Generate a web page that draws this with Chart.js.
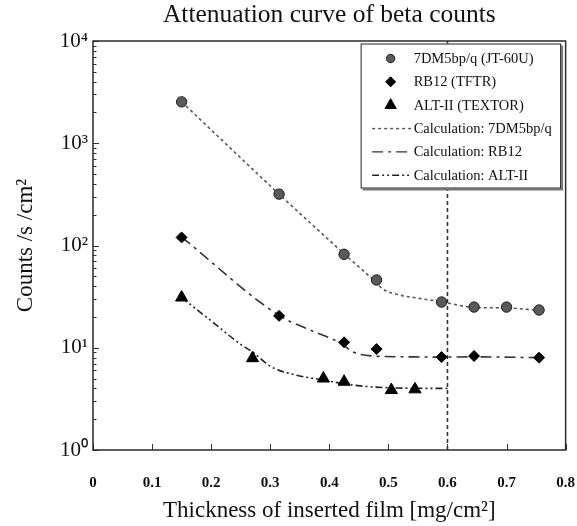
<!DOCTYPE html>
<html><head><meta charset="utf-8">
<script src="https://cdn.jsdelivr.net/npm/chart.js@4.4.1/dist/chart.umd.min.js"></script>
<style>html,body{margin:0;padding:0;background:#fff;} canvas{display:block;}</style>
</head><body>
<canvas id="c" width="577" height="526"></canvas>
<script>
// ---- text ----
const chartTitle = 'Attenuation curve of beta counts';
const xAxisTitle = 'Thickness of inserted film [mg/cm²]';
const yAxisTitle = 'Counts /s /cm²';
const xTickValues = [0, 0.1, 0.2, 0.3, 0.4, 0.5, 0.6, 0.7, 0.8];
const xTickLabels = ['0', '0.1', '0.2', '0.3', '0.4', '0.5', '0.6', '0.7', '0.8'];
const yMajorTicks = [1, 10, 100, 1000, 10000];
const yMajorLabels = ['10⁰', '10¹', '10²', '10³', '10⁴'];

// ---- measured series ----
const jtX = [0.15, 0.315, 0.425, 0.48, 0.59, 0.645, 0.70, 0.755];
const jtY = [2540, 318, 82, 46, 28, 25, 25, 23.4];
const tftrX = [0.15, 0.315, 0.425, 0.48, 0.59, 0.645, 0.755];
const tftrY = [120, 20.5, 11.3, 9.7, 8.1, 8.3, 8.0];
const textorX = [0.15, 0.27, 0.39, 0.425, 0.505, 0.545];
const textorY = [31, 7.9, 5.0, 4.65, 3.86, 3.92];

// ---- calculation curves ----
const calcJtX = [0.15, 0.315, 0.425, 0.48, 0.489, 0.5125, 0.552, 0.589, 0.645, 0.70, 0.755];
const calcJtY = [2540, 318, 83, 43, 38, 33.5, 30.4, 28.2, 24.8, 24.5, 23.2];
const calcRbX = [0.15, 0.315, 0.37, 0.42, 0.44, 0.475, 0.53, 0.59, 0.645, 0.755];
const calcRbY = [121, 20.7, 14.7, 11.0, 9.1, 8.3, 8.15, 8.1, 8.15, 8.0];
const calcAltX = [0.15, 0.20, 0.25, 0.27, 0.30, 0.3325, 0.39, 0.44, 0.50, 0.60];
const calcAltY = [31, 18.3, 10.8, 9.1, 6.6, 5.6, 4.83, 4.32, 4.06, 4.0];

// ---- reference line ----
const refLineX = [0.6, 0.6];
const refLineY = [1, 10000];

const zip = (xs, ys) => xs.map((x, i) => ({x: x, y: ys[i]}));
const SERIF = "'Liberation Serif', 'Times New Roman', serif";

const datasets = [
  {label: '7DM5bp/q (JT-60U)', data: zip(jtX, jtY), legend: true, order: 0,
   pointStyle: 'circle', pointRadius: 5.2, backgroundColor: '#5a5a5a', borderColor: '#1e1e1e', pointBorderWidth: 1, showLine: false},
  {label: 'RB12 (TFTR)', data: zip(tftrX, tftrY), legend: true, order: 0,
   pointStyle: 'rectRot', pointRadius: 5.5, backgroundColor: '#000', borderColor: '#000', pointBorderWidth: 1, showLine: false},
  {label: 'ALT-II (TEXTOR)', data: zip(textorX, textorY), legend: true, order: 0,
   pointStyle: 'triangle', pointRadius: 7, backgroundColor: '#000', borderColor: '#000', pointBorderWidth: 1, showLine: false},
  {label: 'Calculation: 7DM5bp/q', data: zip(calcJtX, calcJtY), legend: true, order: 1,
   showLine: true, pointRadius: 0, borderColor: '#555', borderWidth: 1.6, borderDash: [3, 3], cubicInterpolationMode: 'monotone', fill: false},
  {label: 'Calculation: RB12', data: zip(calcRbX, calcRbY), legend: true, order: 1,
   showLine: true, pointRadius: 0, borderColor: '#333', borderWidth: 1.6, borderDash: [11, 5, 3, 5], cubicInterpolationMode: 'monotone', fill: false},
  {label: 'Calculation: ALT-II', data: zip(calcAltX, calcAltY), legend: true, order: 1,
   showLine: true, pointRadius: 0, borderColor: '#222', borderWidth: 1.6, borderDash: [7, 3, 2, 3, 2, 3], cubicInterpolationMode: 'monotone', fill: false},
  {label: 'x = 0.6', data: zip(refLineX, refLineY), legend: false, order: 2,
   showLine: true, pointRadius: 0, borderColor: '#333', borderWidth: 1.6, borderDash: [4, 3], fill: false}
];

const framePlugin = {
  id: 'frame',
  afterDraw(chart) {
    const {ctx, chartArea: a, scales} = chart;
    const xs = scales.x, ys = scales.y;
    ctx.save();
    // inward ticks
    ctx.strokeStyle = '#333';
    ctx.lineWidth = 1;
    ys.ticks.forEach(t => {
      const py = Math.round(ys.getPixelForValue(t.value)) + 0.5;
      const len = yMajorTicks.includes(t.value) ? 6 : 3.5;
      ctx.beginPath(); ctx.moveTo(a.left, py); ctx.lineTo(a.left + len, py); ctx.stroke();
    });
    xs.ticks.forEach(t => {
      const px = Math.round(xs.getPixelForValue(t.value)) + 0.5;
      ctx.beginPath(); ctx.moveTo(px, a.bottom); ctx.lineTo(px, a.bottom - 6); ctx.stroke();
    });
    // frame
    ctx.strokeStyle = '#2a2a2a';
    ctx.lineWidth = 1.5;
    ctx.strokeRect(a.left, a.top, a.right - a.left, a.bottom - a.top);

    // legend box
    const bx = a.right - 205, by = a.top + 2.5, bw = 200.5, bh = 145;
    ctx.fillStyle = '#777';
    ctx.fillRect(bx + 2, by + 2, bw, bh);
    ctx.fillStyle = '#fff';
    ctx.fillRect(bx, by, bw, bh);
    ctx.strokeStyle = '#222';
    ctx.lineWidth = 1;
    ctx.strokeRect(bx + 0.5, by + 0.5, bw - 1, bh - 1);

    const rowH = 23.35, firstRow = by + 15;
    const markerX = bx + 30, lineX0 = bx + 11.5, lineX1 = bx + 51.5, textX = bx + 53;
    ctx.font = '14.5px ' + SERIF;
    ctx.textBaseline = 'middle';
    ctx.textAlign = 'left';
    chart.data.datasets.filter(d => d.legend).forEach((d, i) => {
      const ry = firstRow + i * rowH;
      if (d.showLine) {
        ctx.save();
        ctx.strokeStyle = d.borderColor;
        ctx.lineWidth = 1.4;
        ctx.setLineDash(d.borderDash || []);
        ctx.beginPath(); ctx.moveTo(lineX0, ry); ctx.lineTo(lineX1, ry); ctx.stroke();
        ctx.restore();
      } else {
        ctx.save();
        ctx.fillStyle = d.backgroundColor;
        ctx.strokeStyle = d.borderColor;
        ctx.lineWidth = 1;
        Chart.helpers.drawPoint(ctx, {pointStyle: d.pointStyle, radius: d.pointStyle === 'circle' ? 4.2 : (d.pointStyle === 'triangle' ? 6.5 : 5), rotation: 0, borderWidth: 1}, markerX, ry);
        ctx.restore();
      }
      ctx.fillStyle = '#111';
      ctx.fillText(d.label, textX, ry + 0.5);
    });
    ctx.restore();
  }
};

new Chart(document.getElementById('c'), {
  type: 'scatter',
  data: {datasets: datasets},
  plugins: [framePlugin],
  options: {
    responsive: false,
    animation: false,
    events: [],
    layout: {padding: {left: 0, right: 10, top: 0, bottom: 0}},
    plugins: {
      legend: {display: false},
      tooltip: {enabled: false},
      title: {
        display: true, text: chartTitle, fullSize: false, color: '#111',
        font: {family: SERIF, size: 25.5, weight: 'normal'},
        padding: {top: 0, bottom: 10.4}
      }
    },
    scales: {
      x: {
        type: 'linear', min: 0, max: 0.8,
        afterBuildTicks: s => { s.ticks = xTickValues.map(v => ({value: v})); },
        afterFit: s => { s.height = 76; },
        grid: {display: true, drawOnChartArea: false, drawTicks: true, tickLength: 22, tickColor: 'rgba(0,0,0,0)'},
        border: {display: false},
        ticks: {
          autoSkip: false, padding: 2, color: '#111', maxRotation: 0,
          font: {family: SERIF, size: 15, weight: 'bold'},
          callback: (v, i) => xTickLabels[i]
        },
        title: {display: true, text: xAxisTitle, color: '#111',
          font: {family: SERIF, size: 23, weight: 'normal'}, padding: {top: 0, bottom: 1.2}}
      },
      y: {
        type: 'logarithmic', min: 1, max: 10000,
        afterBuildTicks: s => {
          const t = [];
          yMajorTicks.forEach((m, k) => {
            if (k === yMajorTicks.length - 1) { t.push({value: m}); return; }
            for (let j = 1; j < 10; j++) t.push({value: m * j});
          });
          s.ticks = t;
        },
        afterFit: s => { s.width = 93; },
        grid: {display: false, drawTicks: false},
        border: {display: false},
        ticks: {
          autoSkip: false, padding: 5, color: '#111',
          font: {family: SERIF, size: 21, weight: 'normal'},
          callback: (v) => { const k = yMajorTicks.indexOf(v); return k >= 0 ? yMajorLabels[k] : ''; }
        },
        title: {display: true, text: yAxisTitle, color: '#111',
          font: {family: SERIF, size: 23, weight: 'normal'}, padding: {top: 12, bottom: 0}}
      }
    }
  }
});
</script>
</body></html>
